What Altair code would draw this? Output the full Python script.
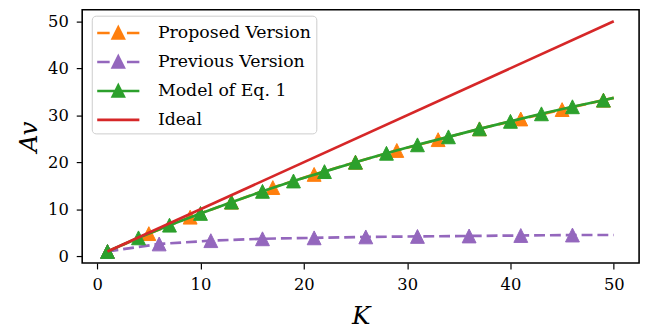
import altair as alt
import pandas as pd

SERIES = ["Proposed Version", "Previous Version", "Model of Eq. 1", "Ideal"]
COLORS = ["#ff7f0e", "#9467bd", "#2ca02c", "#d62728"]

K_proposed = [1, 5, 9, 13, 17, 21, 25, 29, 33, 37, 41, 45, 49, 50]
Av_proposed = [1.0, 4.8, 8.3, 11.5, 14.6, 17.4, 20.0, 22.5, 24.8, 27.1, 29.2, 31.2, 33.2, 33.7]

K_previous = [1, 6, 11, 16, 21, 26, 31, 36, 41, 46, 50]
Av_previous = [1.0, 2.6, 3.3, 3.7, 3.9, 4.1, 4.2, 4.3, 4.4, 4.5, 4.5]

K_model = [1, 4, 7, 10, 13, 16, 19, 22, 25, 28, 31, 34, 37, 40, 43, 46, 49, 50]
Av_model = [1.0, 3.9, 6.6, 9.1, 11.5, 13.8, 16.0, 18.0, 20.0, 21.9, 23.7, 25.4, 27.1, 28.7, 30.3, 31.8, 33.2, 33.7]

K_ideal = [1, 50]
Av_ideal = [1, 50]

X_TICKS = [0, 10, 20, 30, 40, 50]
Y_TICKS = [0, 10, 20, 30, 40, 50]

rows = []
for name, ks, avs in [
    (SERIES[0], K_proposed, Av_proposed),
    (SERIES[1], K_previous, Av_previous),
    (SERIES[2], K_model, Av_model),
    (SERIES[3], K_ideal, Av_ideal),
]:
    for k, a in zip(ks, avs):
        rows.append({"series": name, "K": k, "Av": a,
                     "marker": (name != "Ideal") and (k != 50)})
df = pd.DataFrame(rows)

FONT = "DejaVu Serif"
x_scale = alt.Scale(domain=[-1.45, 52.45], nice=False, zero=False)
y_scale = alt.Scale(domain=[-1.45, 52.45], nice=False, zero=False)
color_scale = alt.Scale(domain=SERIES, range=COLORS)

TRI = "M0,-1L1,1L-1,1Z"
LEG_SHAPES = [
    "M-2,0H-0.82M0.82,0H2M0,-0.52L0.52,0.52L-0.52,0.52Z",
    "M-2,0H-0.82M0.82,0H2M0,-0.52L0.52,0.52L-0.52,0.52Z",
    "M-2,0H2M0,-0.52L0.52,0.52L-0.52,0.52Z",
    "M-2,0H2",
]

AX = dict(labelFont=FONT, labelFontSize=16.5, labelColor="black", labelPadding=8,
          titleFont=FONT, titleFontSize=25, titleFontStyle="italic",
          titleFontWeight="normal", titleColor="black", titleBaseline="alphabetic")

X = alt.X("K:Q", scale=x_scale,
          axis=alt.Axis(values=X_TICKS, title="K", titleY=61, **AX))
Y = alt.Y("Av:Q", scale=y_scale,
          axis=alt.Axis(values=Y_TICKS, title="Av", titleX=-46, **AX))


def line_layer(i, dashed):
    kw = dict(strokeWidth=2.7, clip=True, color=COLORS[i])
    if dashed:
        kw["strokeDash"] = [11, 5]
    return (alt.Chart(df)
            .transform_filter(alt.datum.series == SERIES[i])
            .mark_line(**kw)
            .encode(x=X, y=Y, order="K:Q"))


def point_layer(i):
    return (alt.Chart(df)
            .transform_filter((alt.datum.series == SERIES[i]) & alt.datum.marker)
            .mark_point(filled=True, shape=TRI, size=196, strokeWidth=1, opacity=1,
                        fill=COLORS[i], stroke=COLORS[i])
            .encode(x=X, y=Y))


leg = alt.Legend(
    title=None, orient="none", legendX=9.7, legendY=6, padding=5,
    fillColor="rgba(255,255,255,0.8)", strokeColor="#cccccc", cornerRadius=4,
    labelFont=FONT, labelFontSize=17.5, labelColor="black", labelLimit=400,
    symbolSize=454, symbolOffset=9.3, labelOffset=27.6, rowPadding=5.3,
    symbolStrokeWidth=2.7, symbolOpacity=1,
)

legend_layer = (alt.Chart(df)
                .transform_filter("false")
                .mark_point(filled=True, opacity=1)
                .encode(x=X, y=Y,
                        fill=alt.Fill("series:N", scale=color_scale, legend=leg),
                        stroke=alt.Stroke("series:N", scale=color_scale, legend=leg),
                        shape=alt.Shape("series:N",
                                        scale=alt.Scale(domain=SERIES, range=LEG_SHAPES),
                                        legend=leg)))

chart = alt.layer(
    line_layer(0, True), point_layer(0),
    line_layer(1, True), point_layer(1),
    line_layer(2, False), point_layer(2),
    line_layer(3, False),
    legend_layer,
).properties(
    width=563, height=256,
    autosize=alt.AutoSizeParams(type="none"),
    padding={"left": 75, "top": 0, "right": 8, "bottom": 67},
).configure_view(
    stroke="black", strokeWidth=1.6
).configure_axis(
    grid=False, domain=False,
    tickColor="black", tickWidth=1.2, tickSize=6,
)

chart.save("out.html", embed_options={"renderer": "svg", "actions": False})
